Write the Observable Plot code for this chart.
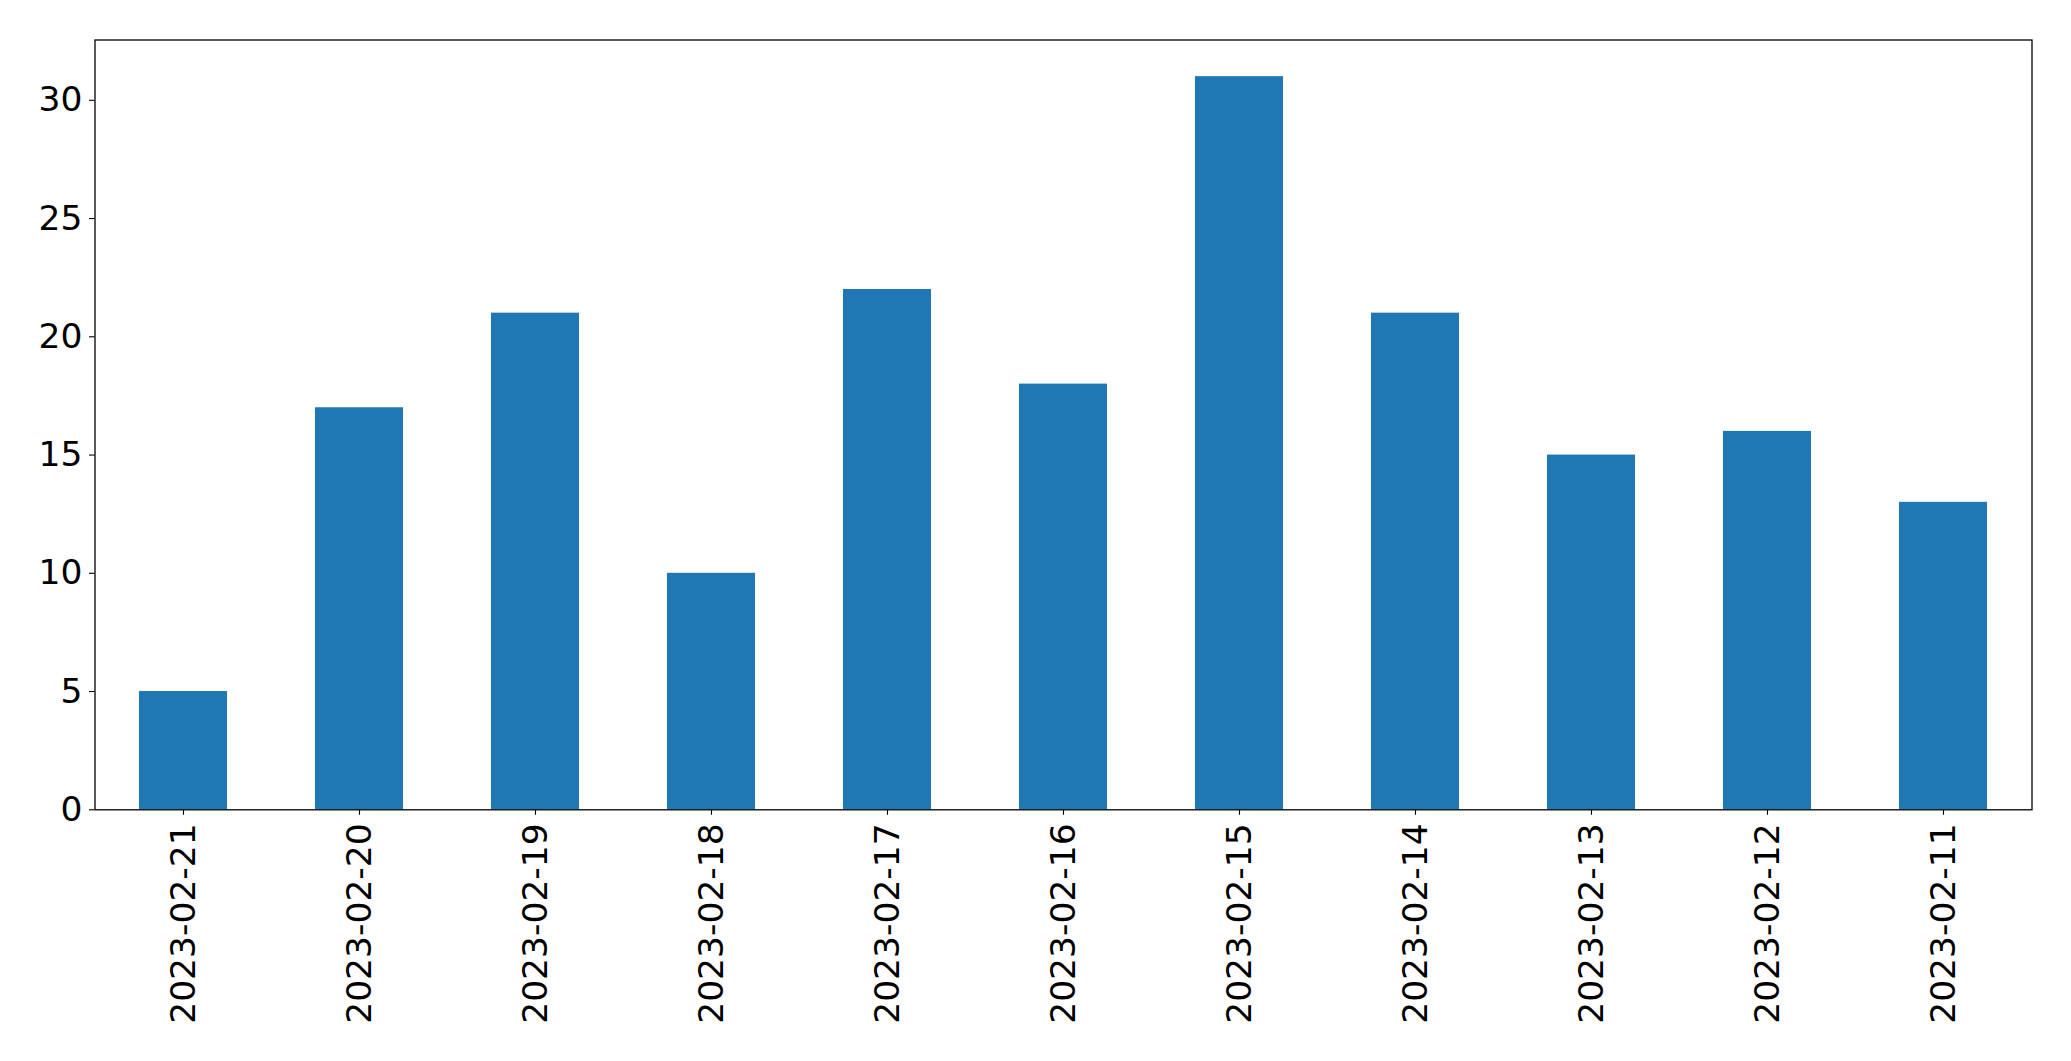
<!DOCTYPE html>
<html>
<head>
<meta charset="utf-8">
<script src="https://cdn.jsdelivr.net/npm/d3@7"></script>
<script src="https://cdn.jsdelivr.net/npm/@observablehq/plot@0.6"></script>
<style>
  html, body { margin: 0; padding: 0; background: #fff; overflow: hidden; }
  #chart svg { display: block; }
</style>
</head>
<body>
<div id="chart"></div>
<script>
const dates = ["2023-02-21","2023-02-20","2023-02-19","2023-02-18","2023-02-17","2023-02-16","2023-02-15","2023-02-14","2023-02-13","2023-02-12","2023-02-11"];
const counts = [5, 17, 21, 10, 22, 18, 31, 21, 15, 16, 13];
const yTicks = [0, 5, 10, 15, 20, 25, 30];

const data = dates.map((d, i) => ({date: d, count: counts[i]}));

const font = "'DejaVu Sans', sans-serif";
const chart = Plot.plot({
  width: 2071,
  height: 1061,
  marginLeft: 94.5,
  marginRight: 39.5,
  marginTop: 39.5,
  marginBottom: 251.7,
  style: {fontFamily: font, fontSize: "34.5px", color: "#000", background: "#fff", overflow: "visible"},
  x: {domain: dates, paddingInner: 0.5, paddingOuter: 0.25, label: null},
  y: {domain: [0, 32.55], label: null},
  marks: [
    Plot.barY(data, {x: "date", y: "count", fill: "#1f77b4"}),
    Plot.axisY({ticks: yTicks, tickSize: 5.5, tickPadding: 7, tickFormat: d => String(d), label: null, fontSize: 34.5, stroke: "#000", strokeWidth: 1.1}),
    Plot.axisX({tickSize: 5.5, tickPadding: 8, tickRotate: -90, label: null, fontSize: 34.5, stroke: "#000", strokeWidth: 1.1}),
    Plot.frame({stroke: "#000", strokeWidth: 1.3})
  ]
});
document.getElementById("chart").appendChild(chart);
</script>
</body>
</html>
